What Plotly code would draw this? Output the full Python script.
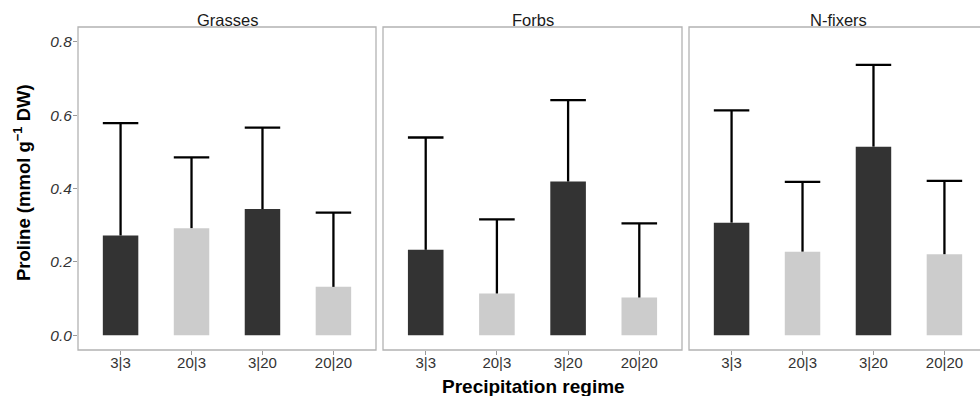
import plotly.graph_objects as go

# ---- data ----
groups = ["Grasses", "Forbs", "N-fixers"]
regimes = ["3|3", "20|3", "3|20", "20|20"]
means = {
    "Grasses": [0.272, 0.292, 0.344, 0.132],
    "Forbs": [0.233, 0.114, 0.419, 0.103],
    "N-fixers": [0.307, 0.228, 0.514, 0.221],
}
upper = {
    "Grasses": [0.578, 0.485, 0.566, 0.334],
    "Forbs": [0.539, 0.316, 0.641, 0.305],
    "N-fixers": [0.613, 0.418, 0.737, 0.421],
}
y_ticks = [0.0, 0.2, 0.4, 0.6, 0.8]
y_ticktext = ["0.0", "0.2", "0.4", "0.6", "0.8"]

# ---- style ----
FONT = "Liberation Sans, Arial, sans-serif"
bar_colors = ["#333333", "#cccccc", "#333333", "#cccccc"]
BAR_W = 0.5
CAP_HALF = 0.25
border_col = "#b3b3b3"
W, H = 980, 396
ML, MR, MT, MB = 78, 0, 27, 46
pw = W - ML - MR
ph = H - MT - MB

px_edges = [(78, 376), (383, 682), (689, 980)]
domains = [[(a - ML) / pw, (b - ML) / pw] for a, b in px_edges]
unit_px = 298 / 4.2
x_ranges = [[0.4, 4.6], [0.4, 4.6], [0.4, 0.4 + (980 - 689) / unit_px]]

xpos = list(range(1, len(regimes) + 1))

fig = go.Figure()
for i, g in enumerate(groups):
    xa = "x" if i == 0 else f"x{i+1}"
    ya = "y" if i == 0 else f"y{i+1}"
    fig.add_trace(go.Bar(
        x=xpos, y=means[g], width=BAR_W, marker=dict(color=bar_colors, line=dict(width=0)),
        xaxis=xa, yaxis=ya, showlegend=False,
    ))
    ex, ey = [], []
    for xv, m, u in zip(xpos, means[g], upper[g]):
        ex += [xv, xv, None, xv - CAP_HALF, xv + CAP_HALF, None]
        ey += [m, u, None, u, u, None]
    fig.add_trace(go.Scatter(
        x=ex, y=ey, mode="lines", line=dict(color="black", width=2.3),
        xaxis=xa, yaxis=ya, showlegend=False, hoverinfo="skip",
    ))

layout = dict(
    width=W, height=H, margin=dict(l=ML, r=MR, t=MT, b=MB),
    paper_bgcolor="white", plot_bgcolor="white",
    font=dict(family=FONT, color="#333333"),
    barmode="overlay",
)
for i in range(3):
    sx = "" if i == 0 else str(i + 1)
    layout[f"xaxis{sx}"] = dict(
        domain=domains[i], range=x_ranges[i], anchor=f"y{sx}",
        tickmode="array", tickvals=xpos, ticktext=regimes,
        ticks="outside", ticklen=4, tickcolor="#999999", tickwidth=1,
        ticklabelstandoff=-5,
        tickfont=dict(size=15, color="#333333", family=FONT),
        showgrid=False, zeroline=False, showline=False, fixedrange=True,
    )
    layout[f"yaxis{sx}"] = dict(
        domain=[0, 1], range=[-0.04, 0.84], anchor=f"x{sx}",
        tickmode="array", tickvals=y_ticks, ticktext=y_ticktext,
        ticks="outside" if i == 0 else "", ticklen=4, tickcolor="#999999", tickwidth=1,
        showticklabels=(i == 0), ticklabelstandoff=-2,
        tickfont=dict(size=15.5, color="#333333", family=FONT, style="italic"),
        showgrid=False, zeroline=False, showline=False,
    )
fig.update_layout(**layout)

shapes = []
for i in range(3):
    sx = "" if i == 0 else str(i + 1)
    shapes.append(dict(
        type="rect", xref=f"x{sx} domain", yref=f"y{sx} domain",
        x0=0, x1=1 if i < 2 else 1.05, y0=0, y1=1,
        line=dict(color=border_col, width=1.3), fillcolor="rgba(0,0,0,0)", layer="above",
    ))
fig.update_layout(shapes=shapes)

annotations = []
strip_x = [0.5, 0.5, (838.5 - 689) / (980 - 689)]
for i, g in enumerate(groups):
    sx = "" if i == 0 else str(i + 1)
    annotations.append(dict(
        text=g, xref=f"x{sx} domain", yref="paper", x=strip_x[i], y=1 + 7 / ph,
        xanchor="center", yanchor="middle", showarrow=False,
        font=dict(size=16.5, color="#1a1a1a", family=FONT),
    ))
annotations.append(dict(
    text="<b>Precipitation regime</b>", xref="paper", yref="paper",
    x=(533 - ML) / pw, y=-(386 - (MT + ph)) / ph, xanchor="center", yanchor="middle",
    showarrow=False, font=dict(size=19, color="black", family=FONT),
))
annotations.append(dict(
    text="<b>Proline (mmol g<sup>\u22121</sup> DW)</b>", xref="paper", yref="paper",
    x=(22 - ML) / pw, y=(MT + ph - 183) / ph, xanchor="center", yanchor="middle",
    textangle=-90, showarrow=False, font=dict(size=18.5, color="black", family=FONT),
))
fig.update_layout(annotations=annotations)

fig.write_html("out.html")
